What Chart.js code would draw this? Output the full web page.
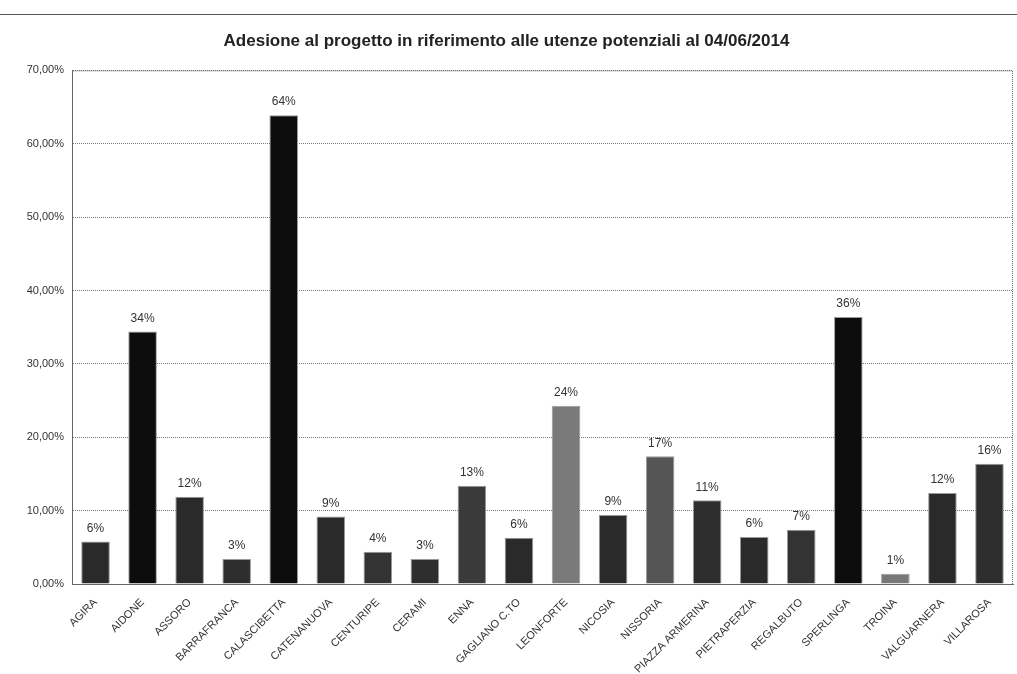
<!DOCTYPE html>
<html>
<head>
<meta charset="utf-8">
<script src="https://cdn.jsdelivr.net/npm/chart.js@4/dist/chart.umd.min.js"></script>
<style>
  html, body { margin: 0; padding: 0; background: #fff; }
  #wrap { position: relative; width: 1017px; height: 674px; }
  #topline { position: absolute; left: 0; right: 0; top: 14px; height: 0; border-top: 1px solid #555; }
  canvas { display: block; }
</style>
</head>
<body>
<div id="wrap">
  <div id="topline"></div>
  <canvas id="c" width="1017" height="674"></canvas>
</div>
<script>
const titleText = "Adesione al progetto in riferimento alle utenze potenziali al 04/06/2014";
const categories = ["AGIRA", "AIDONE", "ASSORO", "BARRAFRANCA", "CALASCIBETTA", "CATENANUOVA", "CENTURIPE", "CERAMI", "ENNA", "GAGLIANO C.TO", "LEONFORTE", "NICOSIA", "NISSORIA", "PIAZZA ARMERINA", "PIETRAPERZIA", "REGALBUTO", "SPERLINGA", "TROINA", "VALGUARNERA", "VILLAROSA"];
const values = [5.8, 34.4, 11.9, 3.4, 63.9, 9.2, 4.4, 3.4, 13.4, 6.3, 24.3, 9.4, 17.4, 11.4, 6.4, 7.4, 36.4, 1.4, 12.4, 16.4];
const barColors = ["#2a2a2a", "#0d0d0d", "#2a2a2a", "#2e2e2e", "#0d0d0d", "#2a2a2a", "#333333", "#2e2e2e", "#3a3a3a", "#2a2a2a", "#7a7a7a", "#2a2a2a", "#555555", "#2e2e2e", "#2a2a2a", "#333333", "#0d0d0d", "#777777", "#2a2a2a", "#2e2e2e"];
const yTicks = [0, 10, 20, 30, 40, 50, 60, 70];

const labelPlugin = {
  id: 'barLabels',
  afterDatasetsDraw(chart) {
    const ctx = chart.ctx;
    const meta = chart.getDatasetMeta(0);
    ctx.save();
    ctx.font = '12px "Liberation Sans", Arial, sans-serif';
    ctx.fillStyle = '#333';
    ctx.textAlign = 'center';
    ctx.textBaseline = 'bottom';
    meta.data.forEach((bar, i) => {
      ctx.fillText(Math.round(values[i]) + '%', bar.x, bar.y - 7);
    });
    ctx.restore();
  }
};

const borderPlugin = {
  id: 'plotBorder',
  afterDraw(chart) {
    const a = chart.chartArea;
    const ctx = chart.ctx;
    ctx.save();
    ctx.strokeStyle = '#666';
    ctx.lineWidth = 1;
    ctx.setLineDash([1, 1]);
    ctx.strokeRect(a.left + 0.5, a.top + 0.5, a.right - a.left - 1, a.bottom - a.top);
    ctx.restore();
  }
};

new Chart(document.getElementById('c'), {
  type: 'bar',
  data: {
    labels: categories,
    datasets: [{
      data: values,
      backgroundColor: barColors,
      borderColor: '#999',
      borderWidth: 1,
      barPercentage: 0.92,
      categoryPercentage: 0.66
    }]
  },
  options: {
    responsive: false,
    animation: false,
    layout: { padding: { left: 0, right: 4, top: 0, bottom: 0 } },
    plugins: {
      legend: { display: false },
      tooltip: { enabled: false },
      title: {
        display: true,
        text: titleText,
        color: '#222',
        font: { family: '"Liberation Sans", Arial, sans-serif', size: 17, weight: 'bold' },
        padding: { top: 31, bottom: 19 }
      }
    },
    scales: {
      x: {
        grid: { display: false },
        border: { display: true, color: '#666' },
        ticks: {
          autoSkip: false,
          maxRotation: 45,
          minRotation: 45,
          color: '#333',
          font: { family: '"Liberation Sans", Arial, sans-serif', size: 11 },
          padding: 4
        },
        afterFit(scale) { scale.height = 90; }
      },
      y: {
        min: 0,
        max: 70,
        afterBuildTicks(scale) { scale.ticks = yTicks.map(v => ({ value: v })); },
        grid: { color: '#777', lineWidth: 1, drawTicks: false },
        border: { display: true, color: '#666', dash: [1, 1] },
        ticks: {
          color: '#333',
          padding: 8,
          font: { family: '"Liberation Sans", Arial, sans-serif', size: 11 },
          callback: v => v.toFixed(2).replace('.', ',') + '%'
        },
        afterFit(scale) { scale.width = 72; }
      }
    }
  },
  plugins: [labelPlugin, borderPlugin]
});
</script>
</body>
</html>
